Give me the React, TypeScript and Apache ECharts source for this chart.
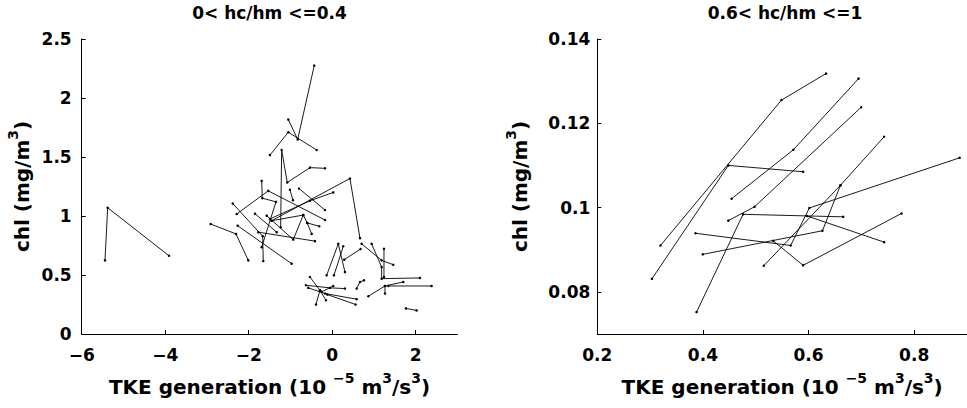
import React, { useEffect, useRef } from 'react';
import * as echarts from 'echarts';

// Left panel (0< hc/hm <=0.4): each track is a list of [TKE generation, chl]
const leftTracks: number[][][] = [
  [[-5.442, 0.624], [-5.378, 1.07], [-3.909, 0.663]],
  [[-1.051, 1.817], [-0.826, 1.649], [-0.429, 2.275]],
  [[-1.49, 1.516], [-1.051, 1.71], [-0.371, 1.559]],
  [[-1.234, 0.905], [-1.21, 1.559], [-1.075, 1.284], [-0.532, 1.41], [-0.172, 1.404]],
  [[-1.689, 1.297], [-1.673, 1.151], [-1.346, 1.12], [-1.689, 0.736]],
  [[-2.287, 1.017], [-1.531, 1.213], [-0.172, 0.966]],
  [[-0.795, 1.233], [-0.172, 1.051]],
  [[-1.449, 0.96], [0.426, 1.318], [0.666, 0.812]],
  [[-1.49, 0.975], [-0.532, 1.129], [0.026, 1.2]],
  [[-2.264, 0.918], [-0.971, 0.596]],
  [[-2.911, 0.932], [-2.304, 0.848], [-2.009, 0.624]],
  [[-2.383, 1.106], [-1.665, 0.829], [-1.65, 0.618]],
  [[-1.569, 1.003], [-0.932, 0.8], [-0.692, 1.008], [-0.596, 0.941], [-0.309, 0.913]],
  [[-0.596, 0.941], [-0.491, 0.848]],
  [[-1.449, 0.96], [-0.692, 1.008]],
  [[-1.77, 0.863], [-0.412, 0.787]],
  [[-1.849, 1.02], [-1.329, 0.863]],
  [[-1.011, 1.222], [-0.939, 1.134]],
  [[-0.133, 0.497], [0.147, 0.764], [0.307, 0.525]],
  [[0.043, 0.497], [0.267, 0.744]],
  [[0.29, 0.63], [0.68, 0.72]],
  [[0.706, 0.764], [1.185, 0.624], [1.464, 0.587]],
  [[0.945, 0.764], [1.185, 0.567], [1.185, 0.469], [2.102, 0.475]],
  [[1.241, 0.722], [1.241, 0.483]],
  [[-0.532, 0.483], [-0.292, 0.37], [-0.149, 0.286]],
  [[-0.628, 0.413], [-0.053, 0.391], [0.307, 0.385]],
  [[-0.572, 0.391], [-0.172, 0.343], [0.586, 0.295]],
  [[-0.292, 0.37], [-0.388, 0.25]],
  [[-0.117, 0.334], [0.562, 0.25]],
  [[0.027, 0.407], [-0.252, 0.357]],
  [[0.586, 0.385], [0.666, 0.441], [0.762, 0.455]],
  [[0.866, 0.32], [1.265, 0.407], [1.704, 0.441]],
  [[1.265, 0.407], [1.265, 0.343]],
  [[1.345, 0.407], [2.382, 0.407]],
  [[1.767, 0.217], [2.023, 0.2]],
];

// Right panel (0.6< hc/hm <=1)
const rightTracks: number[][][] = [
  [[0.3196, 0.091], [0.5487, 0.1255], [0.6332, 0.1318]],
  [[0.3034, 0.0831], [0.4481, 0.11], [0.5897, 0.1085]],
  [[0.4543, 0.1021], [0.5711, 0.1137], [0.6947, 0.1306]],
  [[0.4481, 0.0969], [0.4978, 0.1002], [0.6996, 0.1238]],
  [[0.3879, 0.0752], [0.476, 0.0984], [0.6655, 0.0978]],
  [[0.386, 0.0939], [0.5661, 0.091], [0.6015, 0.0999], [0.886, 0.1118]],
  [[0.5152, 0.0862], [0.6605, 0.1053], [0.7431, 0.1168]],
  [[0.3997, 0.0889], [0.6263, 0.0945], [0.6605, 0.1053]],
  [[0.5332, 0.0921], [0.5897, 0.0863], [0.776, 0.0986]],
  [[0.5972, 0.098], [0.7431, 0.0918]],
];

const leftXTicks = [-6, -4, -2, 0, 2];
const leftYTicks = [0, 0.5, 1, 1.5, 2, 2.5];
const rightXTicks = [0.2, 0.4, 0.6, 0.8];
const rightYTicks = [0.08, 0.1, 0.12, 0.14];
const panelTitles = ['0< hc/hm <=0.4', '0.6< hc/hm <=1'];
const xName = 'TKE generation (10 {sup|\u22125} m{sup|3}/s{sup|3})';
const yName = 'chl (mg/m{sup|3})';

const FONT = 'DejaVu Sans';

function axisCommon(ticks: number[], margin: number) {
  return {
    type: 'value' as const,
    axisLine: { show: true, onZero: false, lineStyle: { color: '#000', width: 1 } },
    axisTick: { show: true, inside: true, length: 4, customValues: ticks, lineStyle: { color: '#000', width: 1 } },
    axisLabel: {
      customValues: ticks,
      margin,
      color: '#000',
      fontFamily: FONT,
      fontWeight: 'bold' as const,
      fontSize: 17,
      formatter: (v: number) => String(v).replace('-', '\u2212'),
    },
    splitLine: { show: false },
    nameLocation: 'middle' as const,
    nameTextStyle: {
      color: '#000',
      fontFamily: FONT,
      fontWeight: 'bold' as const,
      fontSize: 20,
      lineHeight: 32,
      rich: {
        sup: { fontSize: 14, fontFamily: FONT, fontWeight: 'bold' as const, color: '#000', verticalAlign: 'top' as const, lineHeight: 14 },
      },
    },
  };
}

export default function App() {
  const ref = useRef<HTMLDivElement>(null);
  useEffect(() => {
    if (!ref.current) return;
    const chart = echarts.init(ref.current, undefined, { renderer: 'svg' });
    const series: any[] = [];
    const mk = (tracks: number[][][], idx: number) => {
      tracks.forEach((t) => {
        series.push({
          type: 'line',
          xAxisIndex: idx,
          yAxisIndex: idx,
          data: t,
          symbol: 'circle',
          symbolSize: 2.5,
          showSymbol: true,
          lineStyle: { color: '#000', width: 0.9 },
          itemStyle: { color: '#000' },
          silent: true,
        });
      });
    };
    mk(leftTracks, 0);
    mk(rightTracks, 1);
    chart.setOption({
      animation: false,
      backgroundColor: '#fff',
      grid: [
        { left: 81.7, top: 39, width: 375.7, height: 296.7 },
        { left: 597.3, top: 39, width: 376.7, height: 296.7 },
      ],
      xAxis: [
        { ...axisCommon(leftXTicks, 12), gridIndex: 0, min: -6, max: 3, name: xName, nameGap: 37 },
        { ...axisCommon(rightXTicks, 12), gridIndex: 1, min: 0.2, max: 0.9, name: xName, nameGap: 37 },
      ],
      yAxis: [
        { ...axisCommon(leftYTicks, 10), gridIndex: 0, min: 0, max: 2.5, name: yName, nameGap: 41 },
        { ...axisCommon(rightYTicks, 7), gridIndex: 1, min: 0.07, max: 0.14, name: yName, nameGap: 61 },
      ],
      graphic: [
        { type: 'text', x: 269.5, y: 13, style: { text: panelTitles[0], fill: '#000', font: `bold 17px "${FONT}"`, textAlign: 'center', textVerticalAlign: 'middle' } },
        { type: 'text', x: 785, y: 13, style: { text: panelTitles[1], fill: '#000', font: `bold 17px "${FONT}"`, textAlign: 'center', textVerticalAlign: 'middle' } },
      ],
      series,
    });
    return () => chart.dispose();
  }, []);
  return <div ref={ref} style={{ width: 967, height: 408, position: 'absolute', left: 0, top: 0 }} />;
}
